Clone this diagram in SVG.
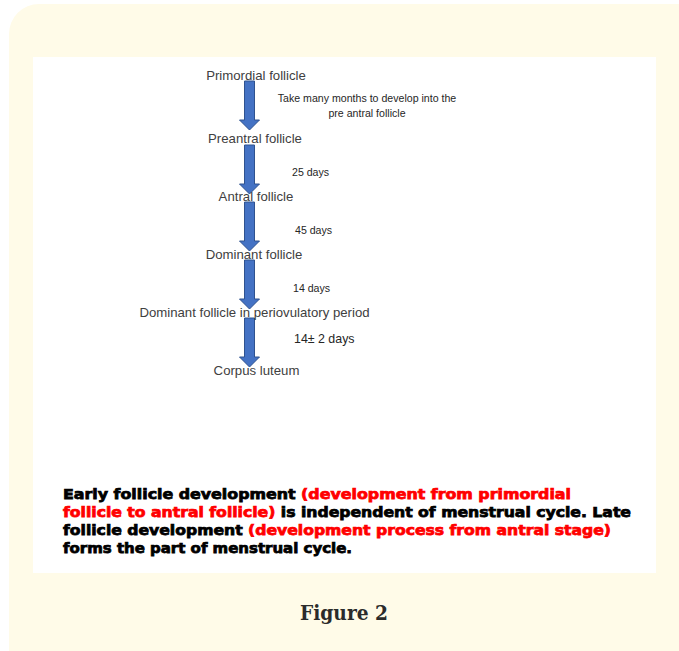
<svg xmlns="http://www.w3.org/2000/svg" width="679" height="651" viewBox="0 0 679 651">
<style>
.lbl{font-family:"Liberation Sans","Open Sans",Arial,sans-serif;font-size:13.2px;fill:#404040;text-anchor:middle}
.sm{font-family:"Liberation Sans","Open Sans",Arial,sans-serif;font-size:10.6px;fill:#262626}
.arr{fill:#4472C4;stroke:#2F528F;stroke-width:1}
.note{font-family:"DejaVu Sans",Verdana,sans-serif;font-weight:bold;font-size:14px;fill:#000;stroke:#000;stroke-width:0.75}
.red{fill:#FF0000;stroke:#FF0000}
.cap{font-family:"DejaVu Serif","Liberation Serif",serif;font-weight:bold;font-size:20.5px;fill:#2b2b2b}
</style>
<defs>
<polygon id="arrow" class="arr" points="-5,0 5,0 5,39 10,39 0,49 -10,39 -5,39"/>
</defs>
<rect x="9" y="4" width="700" height="680" rx="30" ry="30" fill="#FFFBE8"/>
<rect x="33" y="57" width="623" height="516" fill="#FFFFFF"/>

<g id="connectors">
<use href="#arrow" x="249.5" y="81"/>
<use href="#arrow" x="249.5" y="145"/>
<use href="#arrow" x="249.5" y="202"/>
<use href="#arrow" x="249.5" y="260"/>
<use href="#arrow" x="249.5" y="318"/>
<text class="sm" x="367" y="102" text-anchor="middle">Take many months to develop into the</text>
<text class="sm" x="367" y="117" text-anchor="middle">pre antral follicle</text>
<text class="sm" x="292" y="176">25 days</text>
<text class="sm" x="295" y="234">45 days</text>
<text class="sm" x="293" y="292">14 days</text>
<text class="sm" x="294" y="343" style="font-size:12.4px">14± 2 days</text>
</g>

<g id="primordial"><text class="lbl" x="256" y="80">Primordial follicle</text></g>
<g id="preantral"><text class="lbl" x="255" y="143">Preantral follicle</text></g>
<g id="antral"><text class="lbl" x="256" y="201">Antral follicle</text></g>
<g id="dominant"><text class="lbl" x="254" y="259">Dominant follicle</text></g>
<g id="periovulatory"><text class="lbl" x="254.5" y="317">Dominant follicle in periovulatory period</text></g>
<g id="corpus"><text class="lbl" x="256.5" y="375">Corpus luteum</text></g>

<g id="note">
<text class="note" x="63" y="499" textLength="508" lengthAdjust="spacingAndGlyphs">Early follicle development <tspan class="red">(development from primordial</tspan></text>
<text class="note" x="63" y="517" textLength="568" lengthAdjust="spacingAndGlyphs"><tspan class="red">follicle to antral follicle)</tspan> is independent of menstrual cycle. Late</text>
<text class="note" x="63" y="535" textLength="548" lengthAdjust="spacingAndGlyphs">follicle development <tspan class="red">(development process from antral stage)</tspan></text>
<text class="note" x="63" y="553" textLength="289" lengthAdjust="spacingAndGlyphs">forms the part of menstrual cycle.</text>
</g>

<text class="cap" x="300" y="620" textLength="88" lengthAdjust="spacingAndGlyphs">Figure 2</text>
</svg>
